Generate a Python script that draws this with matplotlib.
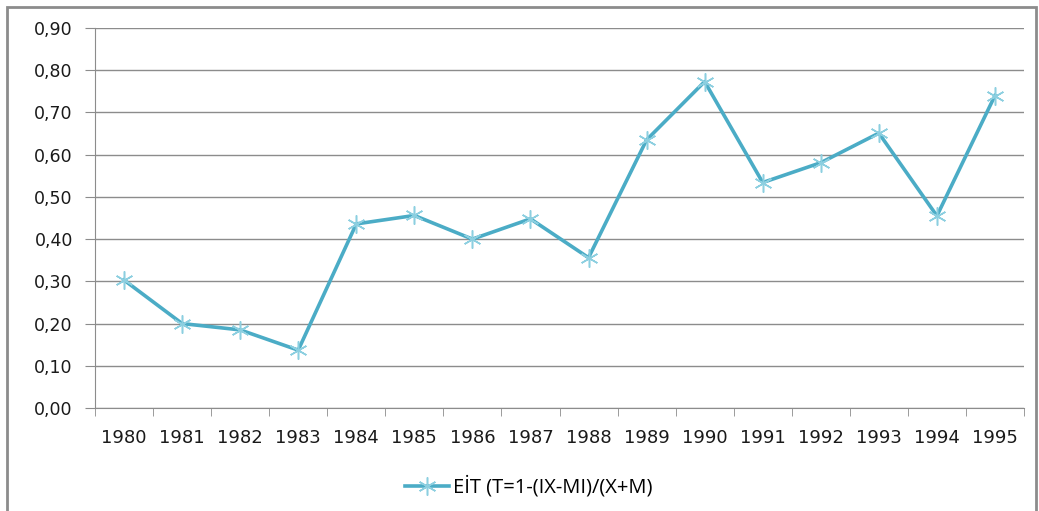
import matplotlib
matplotlib.use('Agg')
import matplotlib.pyplot as plt
from matplotlib.patches import Rectangle
from matplotlib.ticker import FuncFormatter, FixedLocator

years = ['1980', '1981', '1982', '1983', '1984', '1985', '1986', '1987',
         '1988', '1989', '1990', '1991', '1992', '1993', '1994', '1995']
eit = [0.303, 0.200, 0.185, 0.137, 0.436, 0.456, 0.400, 0.448,
       0.356, 0.635, 0.773, 0.534, 0.581, 0.651, 0.455, 0.740]
series_name = 'EİT (T=1-(IX-MI)/(X+M)'

fig = plt.figure(figsize=(10.39, 5.11), dpi=100)
ax = fig.add_axes([95/1039, 1 - 408/511, (1024 - 95)/1039, (408 - 28)/511])

x = list(range(len(years)))
ax.plot(x, eit, color='#4bacc6', lw=2.6, marker=(6, 2, 0), ms=13,
        mec='#8ccfe0', mew=1.1, label=series_name, zorder=3)

ax.set_xlim(-0.5, len(years) - 0.5)
ax.set_ylim(0, 0.9)
ax.set_yticks([i / 10 for i in range(10)])
ax.yaxis.set_major_formatter(FuncFormatter(lambda v, p: f'{v:.2f}'.replace('.', ',')))
ax.set_xticks(x)
ax.set_xticklabels(years)
ax.xaxis.set_minor_locator(FixedLocator([i - 0.5 for i in range(len(years) + 1)]))

ax.grid(axis='y', color='#8c8c8c', lw=1)
ax.set_axisbelow(True)
for s in ['top', 'right']:
    ax.spines[s].set_visible(False)
ax.spines['left'].set_color('#8c8c8c')
ax.spines['bottom'].set_color('#8c8c8c')
ax.tick_params(axis='x', which='major', length=0, pad=15, labelsize=13, colors='#1a1a1a')
ax.tick_params(axis='x', which='minor', length=6, color='#8c8c8c')
ax.tick_params(axis='y', length=7, color='#8c8c8c', pad=9, labelsize=12.5, colors='#1a1a1a')

fig.legend(loc='center', bbox_to_anchor=(529/1039, 1 - 487/511), frameon=False,
           prop={'family': 'Open Sans', 'size': 14.5}, handlelength=2.2,
           handletextpad=0.2)

fig.patches.append(Rectangle((7/1039, -0.1), 1029/1039, 1.1 - 7/511, transform=fig.transFigure,
                             fill=False, edgecolor='#8c8c8c', lw=2))

fig.savefig('out.png', dpi=100)
